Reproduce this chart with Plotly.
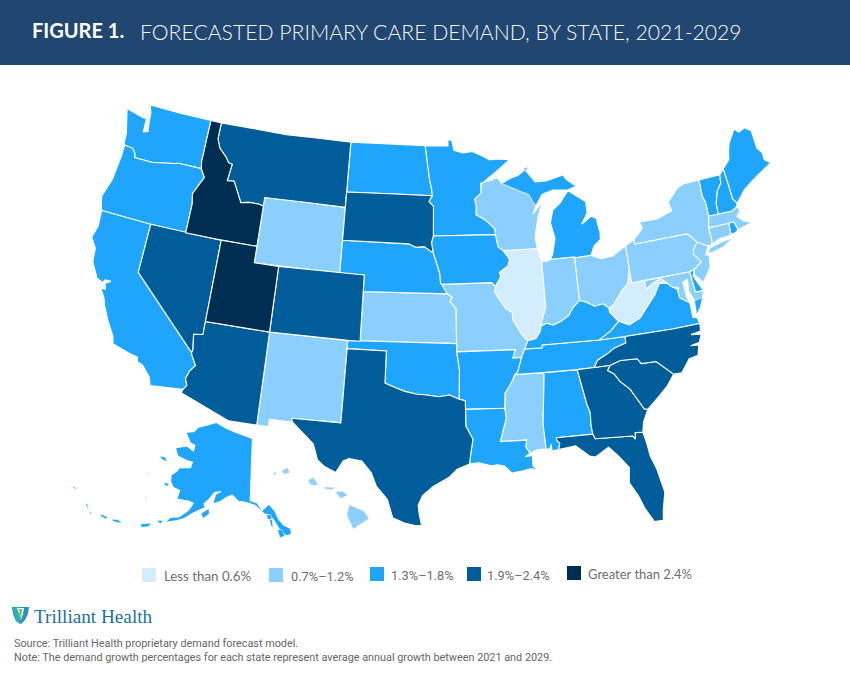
import plotly.graph_objects as go

W = 850
H = 676

# colours for the five growth buckets, lightest to darkest
bin_labels = ["Less than 0.6%", "0.7%–1.2%", "1.3%–1.8%", "1.9%–2.4%", "Greater than 2.4%"]
bin_colors = ["#d3ecff", "#8bcfff", "#1fa5fb", "#005d9a", "#002d52"]

states_by_bin = [
    ["IL", "WV"],
    ["WY", "NM", "KS", "MO", "WI", "IN", "OH", "PA", "NY", "NJ", "CT", "MA", "MD", "MS", "HI", "DC"],
    ["WA", "OR", "CA", "AK", "ND", "NE", "MN", "IA", "MI", "OK", "AR", "LA", "AL", "TN", "KY", "VA",
     "VT", "NH", "ME", "RI", "DE"],
    ["MT", "SD", "NV", "CO", "AZ", "TX", "FL", "GA", "SC", "NC"],
    ["ID", "UT"],
]

# state outlines, lon/lat, no map files can be fetched here
WA = [(-123.95,46.2),(-124.05,46.3),(-124.1,46.9),(-124.7,48.38),(-123.2,48.15),(-122.75,48.1),(-122.7,47.3),(-122.3,47.4),(-122.45,48.0),(-122.5,48.5),(-122.76,49.0),(-120,49),(-117.03,49.0),(-117.04,46.42),(-116.92,46.0),(-118.98,46.0),(-119.3,45.93),(-121.2,45.65),(-122.8,45.65),(-122.9,45.9),(-123.2,46.15)]
OR = [(-124.2,42),(-124.4,42.4),(-124.55,42.84),(-124.1,44.0),(-123.95,45.5),(-123.95,46.2),(-123.2,46.15),(-122.9,45.9),(-122.8,45.65),(-121.2,45.65),(-119.3,45.93),(-118.98,46.0),(-116.92,46.0),(-116.5,45.5),(-116.9,44.9),(-117.2,44.4),(-117.03,43.8),(-117.03,42.0),(-120,42)]
CA = [(-124.2,42),(-120,42),(-120,39),(-114.63,35),(-114.57,34.85),(-114.15,34.27),(-114.5,33.9),(-114.7,33.4),(-114.5,33.0),(-114.72,32.72),(-117.12,32.53),(-117.3,33.0),(-118.0,33.65),(-118.4,33.75),(-118.5,34.03),(-119.2,34.15),(-120.5,34.45),(-120.65,34.9),(-121.3,35.7),(-121.9,36.6),(-122.05,36.95),(-122.5,37.5),(-122.15,37.5),(-122.3,37.85),(-121.9,38.05),(-122.35,38.05),(-122.5,37.85),(-123.0,38.0),(-123.7,38.9),(-123.8,39.7),(-124.35,40.3),(-124.1,41.0)]
NV = [(-120,42),(-114.04,42),(-114.05,37),(-114.05,36.2),(-114.75,36.1),(-114.57,35.2),(-114.63,35),(-120,39)]
ID = [(-117.03,49.0),(-116.05,49.0),(-116.05,48.0),(-115.7,47.45),(-115.0,47.0),(-114.7,46.7),(-114.35,46.65),(-114.5,45.6),(-113.9,45.65),(-113.45,45.05),(-113.0,44.45),(-112.3,44.55),(-111.5,44.55),(-111.05,44.48),(-111.05,42.0),(-114.04,42.0),(-117.03,42.0),(-117.03,43.8),(-117.2,44.4),(-116.9,44.9),(-116.5,45.5),(-116.92,46.0),(-117.04,46.42)]
MT = [(-116.05,49.0),(-110,49),(-104.05,49.0),(-104.05,45.0),(-111.05,45.0),(-111.05,44.48),(-111.5,44.55),(-112.3,44.55),(-113.0,44.45),(-113.45,45.05),(-113.9,45.65),(-114.5,45.6),(-114.35,46.65),(-114.7,46.7),(-115.0,47.0),(-115.7,47.45),(-116.05,48.0)]
WY = [(-111.05,45.0),(-104.05,45.0),(-104.05,41.0),(-111.05,41.0)]
UT = [(-114.04,42),(-111.05,42),(-111.05,41),(-109.05,41),(-109.05,37),(-114.05,37)]
CO = [(-109.05,41),(-102.05,41),(-102.05,37),(-103,37),(-109.05,37)]
AZ = [(-114.05,37),(-109.05,37),(-109.05,31.33),(-111.07,31.33),(-114.81,32.5),(-114.72,32.72),(-114.5,33.0),(-114.7,33.4),(-114.5,33.9),(-114.15,34.27),(-114.57,34.85),(-114.63,35),(-114.57,35.2),(-114.75,36.1),(-114.05,36.2)]
NM = [(-109.05,37),(-103,37),(-103,36.5),(-103.06,32),(-106.62,32),(-106.53,31.78),(-108.2,31.78),(-108.2,31.33),(-109.05,31.33)]
ND = [(-104.05,49),(-97.23,49),(-97,47.9),(-96.8,46.9),(-96.6,46.3),(-96.56,45.94),(-104.05,45.94)]
SD = [(-104.05,45.94),(-96.56,45.94),(-96.85,45.6),(-96.45,45.3),(-96.45,43.5),(-96.6,43.1),(-96.45,42.49),(-96.7,42.6),(-97.2,42.85),(-97.9,42.8),(-98.5,43),(-104.05,43)]
NE = [(-104.05,43),(-98.5,43),(-97.9,42.8),(-97.2,42.85),(-96.7,42.6),(-96.45,42.49),(-96.1,41.7),(-95.9,41.2),(-95.85,40.7),(-95.31,40),(-102.05,40),(-102.05,41),(-104.05,41)]
KS = [(-102.05,40),(-95.31,40),(-94.9,39.8),(-95.1,39.55),(-94.62,39.1),(-94.62,37),(-102.05,37)]
OK = [(-103,37),(-94.62,37),(-94.62,36.5),(-94.43,35.4),(-94.48,33.64),(-95.2,33.9),(-96,33.8),(-96.9,33.9),(-97.7,33.95),(-98.5,34.1),(-99.2,34.3),(-100,34.56),(-100,36.5),(-103,36.5)]
TX = [(-103,36.5),(-100,36.5),(-100,34.56),(-99.2,34.3),(-98.5,34.1),(-97.7,33.95),(-96.9,33.9),(-96,33.8),(-95.2,33.9),(-94.48,33.64),(-94.04,33.55),(-94.04,33.02),(-94.04,32),(-93.55,31.2),(-93.7,30.5),(-93.84,29.7),(-94.7,29.4),(-95.3,28.9),(-96.4,28.35),(-97.1,27.8),(-97.4,27.2),(-97.3,26.6),(-97.14,25.96),(-97.6,25.95),(-98.3,26.1),(-99.1,26.4),(-99.5,27.5),(-100.3,28.3),(-100.7,29.1),(-101.4,29.77),(-102.3,29.88),(-102.7,29.7),(-103.15,28.98),(-104,29.3),(-104.5,29.65),(-104.9,30.6),(-106,31.4),(-106.53,31.78),(-106.62,32),(-103.06,32)]
MN = [(-97.23,49),(-95.15,49),(-95.15,49.38),(-94.8,49.33),(-94.6,48.72),(-93.8,48.55),(-92.95,48.62),(-92,48.3),(-91.4,48.06),(-90.75,48.1),(-89.6,48),(-90.9,47.3),(-91.5,47),(-92.02,46.71),(-92.29,46.66),(-92.29,46.07),(-92.87,45.7),(-92.75,45.3),(-92.8,44.75),(-92,44.4),(-91.25,43.85),(-91.22,43.5),(-96.45,43.5),(-96.45,45.3),(-96.85,45.6),(-96.56,45.94),(-96.6,46.3),(-96.8,46.9),(-97,47.9)]
IA = [(-96.45,43.5),(-91.22,43.5),(-91.05,42.75),(-90.64,42.51),(-90.15,41.95),(-90.34,41.55),(-91.05,41.2),(-90.95,40.95),(-91.42,40.38),(-91.73,40.61),(-95.77,40.58),(-95.85,40.7),(-95.9,41.2),(-96.1,41.7),(-96.45,42.49),(-96.6,43.1)]
MO = [(-95.77,40.58),(-91.73,40.61),(-91.42,40.38),(-91.5,40),(-91.1,39.5),(-90.7,39),(-90.2,38.75),(-90.2,38.3),(-89.5,37.3),(-89.13,36.98),(-89.42,36.5),(-89.7,36),(-90.37,36),(-90.15,36.5),(-94.62,36.5),(-94.62,39.1),(-95.1,39.55),(-94.9,39.8),(-95.31,40),(-95.85,40.7)]
AR = [(-94.62,36.5),(-90.15,36.5),(-90.37,36),(-89.7,36),(-90.07,35.13),(-90.3,35),(-90.6,34.5),(-91.1,33.9),(-91.17,33),(-94.04,33.02),(-94.04,33.55),(-94.48,33.64),(-94.43,35.4)]
LA = [(-94.04,33.02),(-91.17,33),(-91.1,32.4),(-91.4,31.6),(-91.6,31),(-89.73,31),(-89.82,30.6),(-89.55,30.18),(-89.9,30.0),(-89.4,30.05),(-89.4,29.4),(-89.05,29.15),(-89.6,29.25),(-90.1,29.15),(-90.9,29.05),(-91.4,29.5),(-91.9,29.6),(-92.3,29.55),(-93.2,29.77),(-93.84,29.7),(-93.7,30.5),(-93.55,31.2),(-94.04,32)]
WI = [(-92.02,46.71),(-91.2,46.85),(-90.9,46.95),(-90.75,46.9),(-90.4,46.57),(-89.1,46.14),(-88.9,46.05),(-88.1,45.8),(-87.85,45.35),(-87.6,45.1),(-87.9,44.6),(-87.0,45.3),(-87.5,44.4),(-87.7,43.8),(-87.9,43.2),(-87.8,42.49),(-90.64,42.51),(-91.05,42.75),(-91.22,43.5),(-91.25,43.85),(-92,44.4),(-92.8,44.75),(-92.75,45.3),(-92.87,45.7),(-92.29,46.07),(-92.29,46.66)]
IL = [(-90.64,42.51),(-87.8,42.49),(-87.53,41.71),(-87.53,38.9),(-87.95,38.05),(-88.03,37.8),(-88.1,37.5),(-88.5,37.08),(-89.13,36.98),(-89.5,37.3),(-90.2,38.3),(-90.2,38.75),(-90.7,39),(-91.1,39.5),(-91.5,40),(-91.42,40.38),(-90.95,40.95),(-91.05,41.2),(-90.34,41.55),(-90.15,41.95)]
IN = [(-87.53,41.71),(-87.2,41.65),(-86.82,41.76),(-84.8,41.76),(-84.8,41.7),(-84.82,39.1),(-85.4,38.72),(-85.8,38.27),(-86.5,37.95),(-87.1,37.8),(-87.6,37.95),(-88.03,37.8),(-87.95,38.05),(-87.53,38.9)]
OH = [(-84.82,39.1),(-84.3,38.95),(-83.7,38.65),(-83,38.73),(-82.6,38.42),(-82.2,38.6),(-81.75,39),(-81.4,39.35),(-80.85,39.7),(-80.6,40.4),(-80.52,40.64),(-80.52,41.98),(-81.7,41.5),(-82.7,41.45),(-83.45,41.73),(-84.8,41.7)]
KY = [(-89.42,36.5),(-89.13,36.98),(-88.5,37.08),(-88.1,37.5),(-88.03,37.8),(-87.6,37.95),(-87.1,37.8),(-86.5,37.95),(-85.8,38.27),(-85.4,38.72),(-84.82,39.1),(-84.3,38.95),(-83.7,38.65),(-83,38.73),(-82.6,38.42),(-82.6,38.17),(-82,37.55),(-82.7,37.05),(-83.68,36.6),(-88.07,36.67),(-88.07,36.5)]
TN = [(-89.42,36.5),(-88.07,36.5),(-88.07,36.67),(-83.68,36.6),(-81.68,36.59),(-81.7,36.2),(-82.6,36),(-83.1,35.75),(-84,35.4),(-84.32,34.99),(-85.6,34.98),(-88.2,35),(-90.3,35),(-90.07,35.13),(-89.7,36)]
MS = [(-90.3,35),(-88.2,35),(-88.1,34.9),(-88.47,31.9),(-88.4,30.37),(-89,30.38),(-89.55,30.18),(-89.82,30.6),(-89.73,31),(-91.6,31),(-91.4,31.6),(-91.1,32.4),(-91.17,33),(-91.1,33.9),(-90.6,34.5)]
AL = [(-88.2,35),(-85.6,34.98),(-85.18,32.87),(-85,32.3),(-85.05,31.55),(-85,31),(-87.6,31),(-87.6,30.85),(-87.4,30.65),(-87.52,30.28),(-88,30.23),(-88,30.65),(-88.15,30.35),(-88.4,30.37),(-88.47,31.9),(-88.1,34.9)]
GA = [(-85.6,34.98),(-84.32,34.99),(-83.11,35),(-83.35,34.7),(-82.9,34.45),(-82.55,33.95),(-81.9,33.4),(-81.4,32.6),(-81.1,32.1),(-80.85,32.03),(-81.3,31.3),(-81.45,30.72),(-82,30.75),(-82.05,30.36),(-82.2,30.57),(-84.86,30.7),(-85,31),(-85.05,31.55),(-85,32.3),(-85.18,32.87)]
FL = [(-87.6,31),(-85,31),(-84.86,30.7),(-82.2,30.57),(-82.05,30.36),(-82,30.75),(-81.45,30.72),(-81.3,30),(-81.2,29.2),(-80.9,28.4),(-80.6,26.9),(-80.9,25.8),(-81,25.2),(-81.6,25.2),(-82.1,26.1),(-82.4,26.9),(-82.9,27.8),(-82.75,28.7),(-83.4,29.5),(-84,30.1),(-85,29.6),(-85.4,29.7),(-86.3,30.4),(-87.52,30.28),(-87.4,30.65),(-87.6,30.85)]
SC = [(-83.11,35),(-82.3,35.2),(-81.04,35.15),(-80.78,34.82),(-79.67,34.8),(-78.55,33.86),(-79.2,33.2),(-79.9,32.7),(-80.85,32.03),(-81.1,32.1),(-81.4,32.6),(-81.9,33.4),(-82.55,33.95),(-82.9,34.45),(-83.35,34.7)]
NC = [(-84.32,34.99),(-83.11,35),(-82.3,35.2),(-81.04,35.15),(-80.78,34.82),(-79.67,34.8),(-78.55,33.86),(-77.95,33.85),(-77.2,34.6),(-76.5,34.7),(-76.3,35.3),(-76.9,35.35),(-76.2,35.45),(-75.95,35.9),(-76.7,36),(-75.95,36.1),(-75.87,36.55),(-78,36.55),(-81.68,36.59),(-81.7,36.2),(-82.6,36),(-83.1,35.75),(-84,35.4)]
VA = [(-83.68,36.6),(-81.68,36.59),(-78,36.55),(-75.87,36.55),(-76,36.93),(-76.3,37),(-76.3,37.55),(-76.3,37.9),(-77,38.3),(-77.05,38.85),(-77.5,39.1),(-77.72,39.32),(-78.35,39.4),(-78.87,38.77),(-79.3,38.42),(-80.3,37.55),(-81.22,37.24),(-82,37.55),(-82.7,37.05)]
VA_SHORE = [(-75.9,37.95),(-75.25,38.03),(-75.6,37.5),(-75.95,37.15)]
WV = [(-82.6,38.42),(-82.2,38.6),(-81.75,39),(-81.4,39.35),(-80.85,39.7),(-80.6,40.4),(-80.52,40.64),(-80.52,39.72),(-79.48,39.72),(-79.48,39.2),(-78.9,39.45),(-78.2,39.68),(-77.72,39.32),(-78.35,39.4),(-78.87,38.77),(-79.3,38.42),(-80.3,37.55),(-81.22,37.24),(-82,37.55),(-82.6,38.17)]
MD = [(-79.48,39.72),(-75.79,39.72),(-75.69,38.46),(-75.05,38.45),(-75.25,38.03),(-75.9,37.95),(-76.2,38.6),(-76.1,39.3),(-76.5,39.2),(-76.45,38.3),(-76.3,37.9),(-77,38.3),(-77.05,38.85),(-77.5,39.1),(-77.72,39.32),(-78.2,39.68),(-78.9,39.45),(-79.48,39.2)]
DE = [(-75.79,39.72),(-75.41,39.8),(-75.6,39.45),(-75.4,39.05),(-75.05,38.45),(-75.69,38.46)]
DC = [(-77.12,38.93),(-77.04,39),(-76.91,38.89),(-77.04,38.79)]
PA = [(-80.52,41.98),(-79.76,42.27),(-79.76,42),(-75.35,42),(-75.05,41.75),(-74.7,41.36),(-75.13,40.97),(-75.2,40.7),(-74.72,40.15),(-75.41,39.8),(-75.79,39.72),(-80.52,39.72),(-80.52,40.64)]
NJ = [(-74.7,41.36),(-73.9,41),(-74.25,40.5),(-74,40.45),(-74.1,39.75),(-74.9,38.93),(-75.5,39.5),(-75.41,39.8),(-74.72,40.15),(-75.2,40.7),(-75.13,40.97)]
NY = [(-79.76,42),(-79.76,42.27),(-78.9,42.85),(-79.05,43.27),(-77.5,43.25),(-76.2,43.55),(-76.35,44.1),(-75.3,44.85),(-74.7,45),(-73.35,45.01),(-73.4,44),(-73.25,43.6),(-73.27,42.75),(-73.5,42.05),(-73.49,41.2),(-73.65,41),(-73.9,41),(-74.7,41.36),(-75.05,41.75),(-75.35,42)]
LONG_ISLAND = [(-74,40.6),(-73.75,40.85),(-72.5,41.05),(-71.9,41.07),(-72.7,40.75),(-73.6,40.58)]
CT = [(-73.5,42.05),(-71.8,42.02),(-71.85,41.32),(-72.9,41.25),(-73.65,41),(-73.49,41.2)]
RI = [(-71.8,42.02),(-71.38,42.02),(-71.2,41.5),(-71.5,41.37),(-71.85,41.32)]
MA = [(-73.5,42.05),(-73.27,42.75),(-72.46,42.73),(-71.3,42.7),(-70.82,42.87),(-70.6,42.65),(-71,42.3),(-70.6,41.95),(-70,41.75),(-70.2,42.07),(-69.95,41.7),(-70.6,41.6),(-71.2,41.5),(-71.38,42.02),(-71.8,42.02)]
VT = [(-73.35,45.01),(-71.5,45.01),(-71.6,44.5),(-72.05,44.1),(-72.4,43.4),(-72.46,42.73),(-73.27,42.75),(-73.25,43.6),(-73.4,44)]
NH = [(-71.5,45.01),(-71.08,45.3),(-71,44.3),(-70.98,43.4),(-70.7,43.07),(-70.82,42.87),(-71.3,42.7),(-72.46,42.73),(-72.4,43.4),(-72.05,44.1),(-71.6,44.5)]
ME = [(-71.08,45.3),(-70.4,45.75),(-70.25,46.2),(-70,46.7),(-69.23,47.46),(-68.9,47.2),(-68.3,47.35),(-67.8,47.07),(-67.78,45.95),(-67.45,45.6),(-67.45,45.15),(-67,44.85),(-68.5,44.3),(-69,44.1),(-69.8,43.75),(-70.7,43.07),(-70.98,43.4),(-71,44.3)]
MI_LOWER = [(-86.82,41.76),(-84.8,41.76),(-84.8,41.7),(-83.45,41.73),(-83.1,42.25),(-82.5,42.6),(-82.45,43),(-82.6,43.9),(-83,44.07),(-83.9,43.65),(-83.3,44.3),(-83.3,45),(-84.7,45.78),(-85.5,45.1),(-86.2,44.7),(-86.5,43.95),(-86.25,43),(-86.6,42)]
MI_UPPER = [(-90.4,46.57),(-89.1,46.14),(-88.9,46.05),(-88.1,45.8),(-87.85,45.35),(-87.6,45.1),(-87,45.75),(-86,45.95),(-84.75,45.85),(-84,46),(-84.8,46.5),(-85,46.75),(-86.5,46.5),(-87.5,46.5),(-88.4,47.38),(-87.9,47.47),(-88.9,47),(-89.7,46.83)]
AK = [(-141,69.65),(-141,60.3),(-139,60),(-137.5,58.9),(-135.5,59.8),(-134,58.8),(-133,57.5),(-131.8,56.6),(-130,56),(-130,55.1),(-131.5,55),(-133,56),(-134.5,57.5),(-135.5,58.2),(-137,58.4),(-139.5,59.6),(-142,60),(-144.5,60.1),(-146.5,60.9),(-148,60.5),(-149.5,59.8),(-151.8,59.2),(-151.4,60.7),(-150,61.2),(-151.8,60.9),(-153,59.8),(-154.2,59),(-153.6,58.5),(-156.5,57.3),(-158.5,56.2),(-160.5,55.5),(-163,54.8),(-162,55.8),(-160,56.2),(-158,57.5),(-157.2,58.7),(-158.5,58.8),(-160.5,58.7),(-162,58.6),(-162,59.9),(-164,60),(-165.3,60.6),(-166,61.6),(-164.7,62.5),(-164.5,63),(-162,63.5),(-161,63.6),(-161,64.5),(-162.8,64.4),(-166.3,64.6),(-168.1,65.6),(-164.5,66.5),(-161.8,66.1),(-162,67),(-163.8,67.1),(-166.8,68.4),(-164,68.9),(-163,69.8),(-160,70.5),(-156.6,71.35),(-152,70.8),(-148,70.4),(-144,70)]
AK_KODIAK = [(-154.4,57.5),(-152.6,58.4),(-152.2,57.7),(-153.6,56.9)]
AK_UNIMAK = [(-165,54.7),(-163.5,55),(-164,54.4)]
AK_UNALASKA = [(-168.5,53.3),(-166.2,54),(-166.5,53.4),(-168,52.9)]
AK_ATKA = [(-175.2,52.1),(-174,52.4),(-172.6,52.3),(-174,52),(-175,51.9)]
AK_ADAK = [(-178.2,51.9),(-176.5,52),(-176.6,51.65),(-178,51.65)]
AK_KISKA = [(179.4,51.3),(179.9,51.45),(179.6,51.1),(178.6,51.6),(177.6,52.1),(177.4,51.9)]
AK_ATTU = [(172.5,52.9),(173.4,52.95),(173.3,52.8),(172.5,52.75)]
AK_LAWRENCE = [(-171.7,63.4),(-170,63.7),(-168.8,63.2),(-170.3,63.2)]
AK_NUNIVAK = [(-167,60.2),(-165.7,60.3),(-165.6,59.9),(-166.8,59.9)]
AK_MATTHEW = [(-172.9,60.45),(-172.5,60.45),(-172.6,60.25)]
AK_PRIBILOF = [(-170.4,57.25),(-170,57.25),(-170.1,57.1)]
AK_POW = [(-133.5,56),(-132.2,55.9),(-131.8,55),(-133,54.8)]
AK_BARANOF = [(-135.5,57.5),(-134.8,57.5),(-134.7,56.3),(-135.2,56.7)]
AK_CHICHAGOF = [(-136.3,58.2),(-134.9,58.2),(-135,57.55),(-136,57.6)]
HI_BIG = [(-155.9,20.25),(-155.1,19.9),(-154.8,19.5),(-155.7,18.95),(-156.05,19.7)]
HI_MAUI = [(-156.7,20.95),(-156.25,20.95),(-156,20.75),(-156.4,20.58)]
HI_OAHU = [(-158.25,21.55),(-157.95,21.7),(-157.65,21.3),(-158.1,21.3)]
HI_KAUAI = [(-159.75,22.05),(-159.4,22.23),(-159.3,21.95),(-159.6,21.88)]
HI_MOLOKAI = [(-157.3,21.2),(-156.7,21.17),(-156.9,21.05),(-157.3,21.1)]
HI_NIIHAU = [(-160.25,21.9),(-160.05,22),(-160.1,21.8)]

outlines = {
    "WA": [WA], "OR": [OR], "CA": [CA], "NV": [NV], "ID": [ID], "MT": [MT], "WY": [WY], "UT": [UT],
    "CO": [CO], "AZ": [AZ], "NM": [NM], "ND": [ND], "SD": [SD], "NE": [NE], "KS": [KS], "OK": [OK],
    "TX": [TX], "MN": [MN], "IA": [IA], "MO": [MO], "AR": [AR], "LA": [LA], "WI": [WI], "IL": [IL],
    "IN": [IN], "OH": [OH], "KY": [KY], "TN": [TN], "MS": [MS], "AL": [AL], "GA": [GA], "FL": [FL],
    "SC": [SC], "NC": [NC], "VA": [VA, VA_SHORE], "WV": [WV], "MD": [MD], "DE": [DE], "DC": [DC],
    "PA": [PA], "NJ": [NJ], "NY": [NY, LONG_ISLAND], "CT": [CT], "RI": [RI], "MA": [MA], "VT": [VT],
    "NH": [NH], "ME": [ME], "MI": [MI_LOWER, MI_UPPER],
    "AK": [AK, AK_KODIAK, AK_UNIMAK, AK_UNALASKA, AK_ATKA, AK_ADAK, AK_KISKA, AK_ATTU, AK_LAWRENCE,
           AK_NUNIVAK, AK_MATTHEW, AK_PRIBILOF, AK_POW, AK_BARANOF, AK_CHICHAGOF],
    "HI": [HI_BIG, HI_MAUI, HI_OAHU, HI_KAUAI, HI_MOLOKAI, HI_NIIHAU],
}
inset_geo = {"AK": "geo2", "HI": "geo3"}


def clockwise(ring):
    # d3 fills the inside of a ring only when it runs clockwise
    pts = list(ring)
    total = sum((b[0] - a[0]) * (b[1] + a[1]) for a, b in zip(pts, pts[1:] + pts[:1]))
    if total < 0:
        pts.reverse()
    return pts + pts[:1]


def xp(px):
    return px / W


def yp(py):
    return 1 - py / H


fig = go.Figure()

for color, names in zip(bin_colors, states_by_bin):
    for name in names:
        for i, ring in enumerate(outlines[name]):
            pts = clockwise(ring)
            width = 0.4 if i > 0 or name == "HI" else 1.1
            fig.add_trace(go.Scattergeo(
                lon=[p[0] for p in pts], lat=[p[1] for p in pts],
                geo=inset_geo.get(name, "geo"),
                mode="lines", fill="toself", fillcolor=color,
                line=dict(color="white", width=width),
                name=name, hoverinfo="name", showlegend=False))

shapes = [dict(type="rect", xref="paper", yref="paper", x0=0, x1=1, y0=yp(65), y1=1,
               fillcolor="#21466f", line_width=0, layer="below")]
annotations = []


def label(px, py, text, size, color, family="Roboto", weight=None):
    annotations.append(dict(xref="paper", yref="paper", x=xp(px - 1), y=yp(py), text=text, showarrow=False,
                            xanchor="left", yanchor="middle", align="left",
                            font=dict(size=size, color=color, family=family, weight=weight)))


label(31, 30, "<b>FIGURE 1.</b>", 20, "white", "Lato")
label(139, 32, "FORECASTED PRIMARY CARE DEMAND, BY STATE, 2021-2029", 21.2, "#f4f7fa", "Lato", 300)

# legend
swatch_x = [142, 269, 370, 467, 567]
text_x = [163, 290, 390, 486, 587]
swatch_y = [568, 568, 567, 567, 566]
text_size = [13.3, 12.8, 12.8, 12.8, 13]
text_font = ["Lato", "Roboto", "Roboto", "Roboto", "Lato"]
for sx, tx, sy, ts, tf, color, txt in zip(swatch_x, text_x, swatch_y, text_size, text_font, bin_colors, bin_labels):
    shapes.append(dict(type="rect", xref="paper", yref="paper", x0=xp(sx), x1=xp(sx + 14),
                       y0=yp(sy + 14), y1=yp(sy), fillcolor=color, line_width=0))
    label(tx, sy + 8, txt, ts, "#6d6e71", tf)


def logo_path(points):
    parts = [f"{xp(x):.4f},{yp(y):.4f}" for x, y in points]
    return "M " + " L ".join(parts) + " Z"


# logo mark: blue shield with teal and green blades
logo_shapes = [
    ("#2a8fc4", [(12, 607), (29, 607), (28, 614), (25, 620), (21, 624), (16, 621), (13, 614)]),
    ("#28b1b8", [(13, 607), (20, 607), (20, 624), (16, 621), (14, 614)]),
    ("#ffffff", [(17, 608), (24, 608), (23, 614), (21, 620), (19, 614)]),
    ("#7cc25a", [(19, 609), (22, 609), (21.5, 616), (20.5, 622), (19.5, 616)]),
]
for fill, pts in logo_shapes:
    shapes.append(dict(type="path", xref="paper", yref="paper", path=logo_path(pts),
                       fillcolor=fill, line_width=0))
label(33, 616, "Trilliant Health", 19.2, "#1d6fa0", "Liberation Serif")

label(13, 643, "Source: Trilliant Health proprietary demand forecast model.", 10.85, "#666666")
label(13, 657, "Note: The demand growth percentages for each state represent average annual growth between 2021 and 2029.", 10.85, "#666666")

blank = dict(showland=False, showlakes=False, showcountries=False, showsubunits=False,
             showcoastlines=False, showframe=False, bgcolor="rgba(0,0,0,0)")

fig.update_layout(
    width=W, height=H,
    margin=dict(l=0, r=0, t=0, b=0),
    paper_bgcolor="white",
    shapes=shapes, annotations=annotations,
    geo=dict(
        scope="usa",
        projection=dict(type="albers usa", scale=1.05),
        domain=dict(x=[0.0271, 0.9871], y=[0.1733, 0.8933]),
        **blank,
    ),
    geo2=dict(
        projection=dict(type="albers", parallels=[45, 60], rotation=dict(lon=-138.4)),
        lonaxis=dict(range=[-205, -110]), lataxis=dict(range=[50, 72]),
        domain=dict(x=[xp(73), xp(445)], y=[yp(607), yp(385)]),
        **blank,
    ),
    geo3=dict(
        projection=dict(type="albers", parallels=[8, 18], rotation=dict(lon=-157)),
        lonaxis=dict(range=[-161, -154]), lataxis=dict(range=[18, 23]),
        domain=dict(x=[xp(259), xp(401)], y=[yp(547), yp(453)]),
        **blank,
    ),
)

fig.write_html("out.html", post_script="document.body.style.margin = '0';",
               config=dict(displayModeBar=False))
